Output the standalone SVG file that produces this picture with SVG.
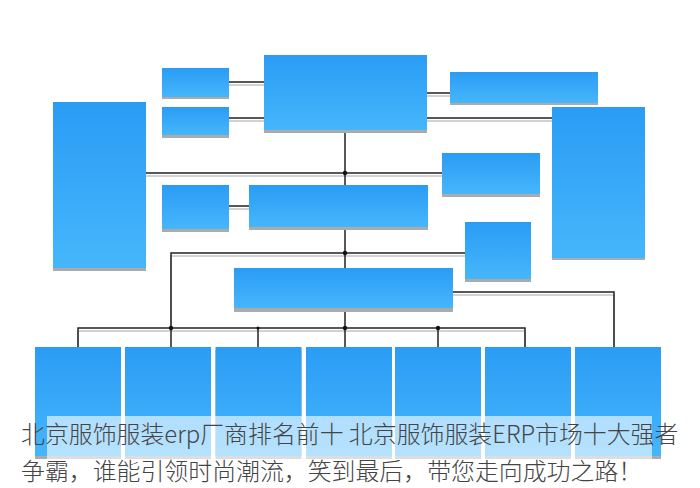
<svg xmlns="http://www.w3.org/2000/svg" width="700" height="488" viewBox="0 0 700 488">
<defs>
<linearGradient id="bg" x1="0" y1="0" x2="0" y2="1">
<stop offset="0" stop-color="#2a9cf5"/>
<stop offset="1" stop-color="#46b6fb"/>
</linearGradient>
<style>
.box{fill:url(#bg)}
.sh{fill:#ababab}
.ln{fill:none;stroke:#222;stroke-width:1.5}
.lg{fill:none;stroke:#c4c4c4;stroke-width:1.5}
.dot{fill:#111}
.t{font-family:"Noto Sans CJK SC","Noto Sans",sans-serif;font-size:23.9px;font-weight:300;fill:#444}
</style>
</defs>
<rect width="700" height="488" fill="#fff"/>
<g id="connectors">
<g transform="translate(0,3)">
<path class="lg" d="M229 82H264M229 118H264M427 93H450M427 118H552M146 173H442M229 206H249M171 328V253H465M453 292H614V347M78 347V328H525V347"/>
</g>
<path class="ln" d="M229 82H264M229 118H264M427 93H450M427 118H552M345 130V347M146 173H442M229 206H249M171 328V253H465M453 292H614V347M78 347V328H525V347M171 328V347M258 328V347M438 328V347"/>
<circle class="dot" cx="345" cy="173" r="2.2"/>
<circle class="dot" cx="345" cy="253" r="2.2"/>
<circle class="dot" cx="171" cy="328" r="2.2"/>
<circle class="dot" cx="258" cy="328" r="1.6"/>
<circle class="dot" cx="345" cy="328" r="2.2"/>
<circle class="dot" cx="438" cy="328" r="2.2"/>
</g>
<g id="n-left"><rect class="sh" x="53" y="105" width="93" height="166"/><rect class="box" x="53" y="102" width="93" height="166"/></g>
<g id="n-a"><rect class="sh" x="162" y="71" width="67" height="28"/><rect class="box" x="162" y="68" width="67" height="29"/></g>
<g id="n-b"><rect class="sh" x="162" y="110" width="67" height="28"/><rect class="box" x="162" y="107" width="67" height="28"/></g>
<g id="n-top"><rect class="sh" x="264" y="58" width="163" height="75"/><rect class="box" x="264" y="55" width="163" height="75"/></g>
<g id="n-topright"><rect class="sh" x="450" y="75" width="148" height="30"/><rect class="box" x="450" y="72" width="148" height="31"/></g>
<g id="n-right"><rect class="sh" x="552" y="110" width="93" height="150"/><rect class="box" x="552" y="107" width="93" height="151"/></g>
<g id="n-midright"><rect class="sh" x="442" y="156" width="98" height="41"/><rect class="box" x="442" y="153" width="98" height="41"/></g>
<g id="n-c"><rect class="sh" x="162" y="188" width="67" height="44"/><rect class="box" x="162" y="185" width="67" height="44"/></g>
<g id="n-d"><rect class="sh" x="249" y="188" width="179" height="42"/><rect class="box" x="249" y="185" width="179" height="42"/></g>
<g id="n-e"><rect class="sh" x="465" y="225" width="66" height="57"/><rect class="box" x="465" y="222" width="66" height="57"/></g>
<g id="n-f"><rect class="sh" x="234" y="271" width="219" height="41"/><rect class="box" x="234" y="268" width="219" height="40"/></g>
<g id="n-b1"><rect class="sh" x="35" y="350" width="86" height="109"/><rect class="box" x="35" y="347" width="86" height="109"/></g>
<g id="n-b2"><rect class="sh" x="125" y="350" width="86" height="109"/><rect class="box" x="125" y="347" width="86" height="109"/></g>
<g id="n-b3"><rect class="sh" x="215.5" y="350" width="86" height="109"/><rect class="box" x="215.5" y="347" width="86" height="109"/></g>
<g id="n-b4"><rect class="sh" x="306" y="350" width="86" height="109"/><rect class="box" x="306" y="347" width="86" height="109"/></g>
<g id="n-b5"><rect class="sh" x="395" y="350" width="86" height="109"/><rect class="box" x="395" y="347" width="86" height="109"/></g>
<g id="n-b6"><rect class="sh" x="485" y="350" width="86" height="109"/><rect class="box" x="485" y="347" width="86" height="109"/></g>
<g id="n-b7"><rect class="sh" x="575" y="350" width="86" height="109"/><rect class="box" x="575" y="347" width="86" height="109"/></g>
<rect x="47" y="416" width="605" height="43" fill="#fff" fill-opacity="0.6"/>
<text class="t" x="21" y="443">北京服饰服装erp厂商排名前十 北京服饰服装ERP市场十大强者</text>
<text class="t" x="21" y="480">争霸，谁能引领时尚潮流，笑到最后，带您走向成功之路！</text>
</svg>
